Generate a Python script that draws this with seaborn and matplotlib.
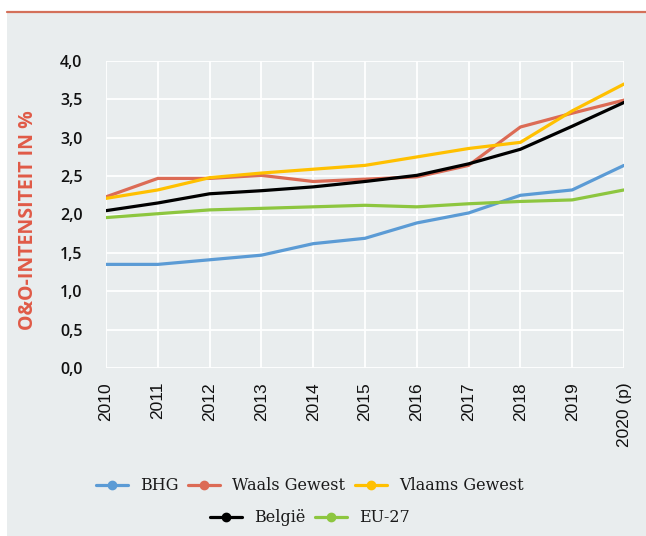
import matplotlib
matplotlib.use("Agg")
import matplotlib.pyplot as plt
import seaborn as sns
import pandas as pd
from matplotlib.lines import Line2D
from matplotlib.patches import Rectangle
from matplotlib.ticker import FuncFormatter, MultipleLocator

years = ["2010", "2011", "2012", "2013", "2014", "2015", "2016", "2017", "2018", "2019", "2020 (p)"]
bhg = [1.35, 1.35, 1.41, 1.47, 1.62, 1.69, 1.89, 2.02, 2.25, 2.32, 2.64]
waals = [2.23, 2.47, 2.47, 2.51, 2.43, 2.46, 2.49, 2.64, 3.14, 3.32, 3.49]
vlaams = [2.21, 2.32, 2.48, 2.54, 2.59, 2.64, 2.75, 2.86, 2.94, 3.35, 3.70]
belgie = [2.05, 2.15, 2.27, 2.31, 2.36, 2.43, 2.51, 2.66, 2.85, 3.15, 3.46]
eu27 = [1.96, 2.01, 2.06, 2.08, 2.10, 2.12, 2.10, 2.14, 2.17, 2.19, 2.32]

series = ["BHG", "Waals Gewest", "Vlaams Gewest", "België", "EU-27"]
colors = ["#5b9bd5", "#dc6b55", "#ffc000", "#000000", "#8dc63f"]
values = [bhg, waals, vlaams, belgie, eu27]

rows = []
for name, vals in zip(series, values):
    for i, (yr, v) in enumerate(zip(years, vals)):
        rows.append({"x": i, "jaar": yr, "reeks": name, "waarde": v})
df = pd.DataFrame(rows)

sns.set_theme(style="white")
plt.rcParams["font.family"] = ["DejaVu Sans"]

W, H = 646, 536
fig = plt.figure(figsize=(W / 100, H / 100), dpi=100)
bg = "#e9edee"
fig.patches.append(Rectangle((7 / W, 0), 1, (H - 12) / H, transform=fig.transFigure,
                             facecolor=bg, edgecolor="none", zorder=-10))
fig.add_artist(Line2D([7 / W, 1], [1 - 12 / H] * 2, color="#d4705a", lw=1.6))

ax = fig.add_axes([106 / W, 1 - 368 / H, 518 / W, 307 / H])
ax.patch.set_visible(False)

sns.lineplot(data=df, x="x", y="waarde", hue="reeks", hue_order=series,
             palette=colors, linewidth=2.3, ax=ax, legend=False)

ax.set_xlim(0, len(years) - 1)
ax.set_ylim(0, 4)
ax.yaxis.set_major_locator(MultipleLocator(0.5))
ax.yaxis.set_major_formatter(FuncFormatter(lambda v, p: f"{v:.1f}".replace(".", ",")))
ax.set_xticks(range(len(years)))
ax.set_xticklabels(years, rotation=90, va="top", ha="center",
                   fontfamily="Liberation Sans", fontsize=12.5, color="#111111")
for lbl in ax.get_yticklabels():
    lbl.set_fontfamily("Open Sans")
    lbl.set_fontweight("semibold")
    lbl.set_fontsize(11.5)
    lbl.set_color("#111111")
ax.tick_params(axis="both", length=0)
ax.tick_params(axis="y", pad=17)
ax.tick_params(axis="x", pad=10)
for s in ax.spines.values():
    s.set_visible(False)
ax.grid(True, color="white", lw=1.3)
ax.set_axisbelow(True)
ax.set_xlabel("")
ax.set_ylabel("")

fig.text(28 / W, 1 - 220 / H, "O&O-INTENSITEIT IN %", rotation=90, ha="center", va="center",
         color="#e05a47", fontsize=14, fontweight="bold", fontfamily="Open Sans")

def handles(idx):
    return [Line2D([], [], color=colors[i], lw=2.3, marker="o", markersize=6) for i in idx]

leg_kw = dict(frameon=False, prop={"family": "DejaVu Serif", "size": 11.5},
              handlelength=2.0, handletextpad=0.75, columnspacing=0.6, loc="center")
leg1 = fig.legend(handles([0, 1, 2]), series[:3], ncol=3,
                  bbox_to_anchor=(310 / W, 1 - 486 / H), **leg_kw)
leg2 = fig.legend(handles([3, 4]), series[3:], ncol=2,
                  bbox_to_anchor=(310 / W, 1 - 518 / H), **leg_kw)
for lg in (leg1, leg2):
    for t in lg.get_texts():
        t.set_color("#1a1a1a")

fig.savefig("out.png", dpi=100, facecolor="white")
